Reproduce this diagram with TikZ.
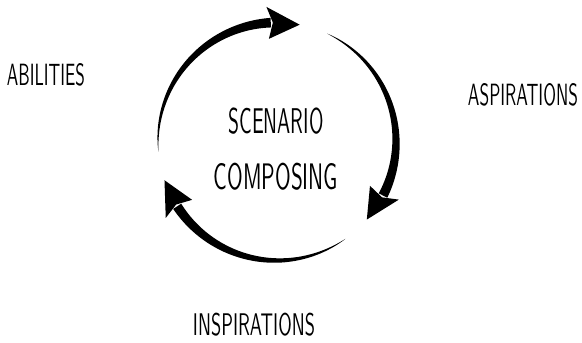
\documentclass[tikz,border=0pt]{standalone}
\usepackage{graphicx}
\usetikzlibrary{positioning}

% one arc of the cycle: thin at its start angle #1, thick near the head
\newcommand{\cyclearc}[1]{%
  \pgfmathsetmacro\sA{#1}%
  \pgfmathsetmacro\bA{#1-92}%
  \pgfmathsetmacro\tA{#1-106}%
  \fill[black] plot[domain=\sA:\bA,samples=60]
      ({277+(119+4.8*((\sA-\x)/92)^0.8)*cos(\x)},{200.5+(119+4.8*((\sA-\x)/92)^0.8)*sin(\x)})
    -- plot[domain=\bA:\sA,samples=60]
      ({277+(119-4.8*((\sA-\x)/92)^0.8)*cos(\x)},{200.5+(119-4.8*((\sA-\x)/92)^0.8)*sin(\x)})
    -- cycle;
  \begin{scope}[shift={(277,200.5)}]
    \fill[black] (\bA+1.5:135) -- (\tA:119) -- (\bA+1.5:103) -- (\bA-1:119) -- cycle;
  \end{scope}}

\begin{document}
\begin{tikzpicture}[
  x=0.025cm,y=0.025cm,
  word/.style={inner sep=0pt,font=\sffamily}
]
  \useasboundingbox (0,0) rectangle (582,342);

  % the three arrows round the centre
  \foreach \s in {185,65,-55}
    \cyclearc{\s};

  % centre
  \node[word] (scen) at (276,221) {\resizebox{2.375cm}{0.64cm}{SCENARIO}};
  \node[word] (comp) at (276,165.5) {\resizebox{3.1cm}{0.66cm}{COMPOSING}};

  % the three drivers
  \node[word] (abil) at (46,267) {\resizebox{1.95cm}{0.55cm}{ABILITIES}};
  \node[word] (aspi) at (523,247) {\resizebox{2.75cm}{0.55cm}{ASPIRATIONS}};
  \node[word] (insp) at (254,17.5) {\resizebox{3.05cm}{0.56cm}{INSPIRATIONS}};
\end{tikzpicture}
\end{document}
